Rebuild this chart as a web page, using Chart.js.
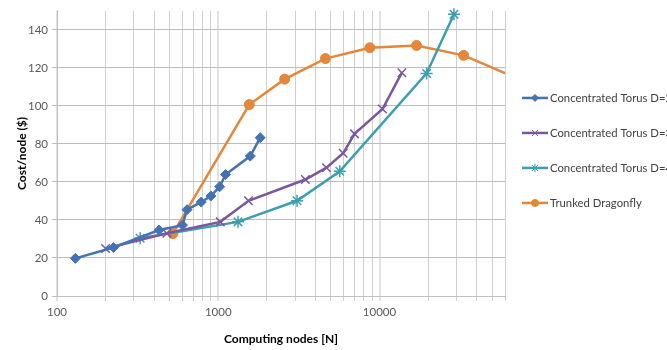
<!DOCTYPE html>
<html>
<head>
<meta charset="utf-8">
<script src="https://cdn.jsdelivr.net/npm/chart.js@4.4.0/dist/chart.umd.min.js"></script>
<style>
  html, body { margin: 0; padding: 0; background: #ffffff; overflow: hidden; }
  #wrap { position: relative; width: 667px; height: 350px; }
</style>
</head>
<body>
<div id="wrap"><canvas id="cost-chart" width="667" height="350"></canvas></div>
<script>
// values
const torus2Nodes = [130, 224, 430, 600, 640, 784, 900, 1020, 1110, 1580, 1820];
const torus2Cost = [19.8, 25.5, 34.7, 37.3, 45.4, 49.4, 52.6, 57.5, 63.9, 73.6, 83.3];

const torus3Nodes = [200, 480, 1030, 1540, 3470, 4690, 5950, 7000, 10440, 13760];
const torus3Cost = [25, 33, 39, 50.1, 61.3, 67.5, 75.1, 85.3, 98.4, 117.5];

const torus4Nodes = [328, 1326, 3080, 5670, 19590, 28950];
const torus4Cost = [30.4, 39, 50.1, 65.6, 117.1, 148.2];

const dragonflyNodes = [523, 1557, 2582, 4620, 8710, 16980, 33250, 65000];
const dragonflyCost = [32.8, 100.7, 114.1, 124.9, 130.6, 131.8, 126.6, 116];

const seriesNames = [
  "Concentrated Torus D=2",
  "Concentrated Torus D=3",
  "Concentrated Torus D=4",
  "Trunked Dragonfly",
];
const xTickValues = [
  100, 200, 300, 400, 500, 600, 700, 800, 900,
  1000, 2000, 3000, 4000, 5000, 6000, 7000, 8000, 9000,
  10000, 20000, 30000, 40000, 50000, 60000,
];
const yTickValues = [0, 20, 40, 60, 80, 100, 120, 140];

function toPoints(xs, ys) {
  return xs.map((x, i) => ({ x: x, y: ys[i] }));
}

function isDecade(v) {
  const l = Math.log10(v);
  return Math.abs(l - Math.round(l)) < 1e-9;
}

const FONT = "Lato, 'Liberation Sans', sans-serif";

const styles = [
  { color: "#4472b4", pointStyle: "rectRot", radius: 5 },
  { color: "#7a58a0", pointStyle: "crossRot", radius: 6 },
  { color: "#3c9fb0", pointStyle: "star", radius: 6 },
  { color: "#e3873b", pointStyle: "circle", radius: 5 },
];

// legend drawn at the right, line + marker like the original
const sideLegend = {
  id: "sideLegend",
  afterDraw(chart) {
    const ctx = chart.ctx;
    const area = chart.chartArea;
    const x0 = area.right + 17;
    const mid = (area.top + area.bottom) / 2 - 3;
    ctx.save();
    seriesNames.forEach((name, i) => {
      const st = styles[i];
      const y = mid - 52.5 + i * 35;
      ctx.strokeStyle = st.color;
      ctx.fillStyle = st.color;
      ctx.lineWidth = 2.5;
      ctx.beginPath();
      ctx.moveTo(x0, y);
      ctx.lineTo(x0 + 26, y);
      ctx.stroke();
      if (Chart.helpers && Chart.helpers.drawPoint) {
        ctx.lineWidth = 1;
        Chart.helpers.drawPoint(ctx, { pointStyle: st.pointStyle, radius: st.radius * 0.7, borderWidth: 1 }, x0 + 13, y);
      }
      ctx.fillStyle = "#404040";
      ctx.font = "11.3px " + FONT;
      ctx.textBaseline = "middle";
      ctx.textAlign = "left";
      ctx.fillText(name, x0 + 28, y);
    });
    ctx.restore();
  },
};

const allNodes = [torus2Nodes, torus3Nodes, torus4Nodes, dragonflyNodes];
const allCost = [torus2Cost, torus3Cost, torus4Cost, dragonflyCost];

const datasets = seriesNames.map((name, i) => ({
  label: name,
  data: toPoints(allNodes[i], allCost[i]),
  borderColor: styles[i].color,
  backgroundColor: styles[i].color,
  borderWidth: 2.5,
  pointStyle: styles[i].pointStyle,
  pointRadius: styles[i].radius,
  pointBorderWidth: i === 1 || i === 2 ? 1.5 : 1,
  pointHoverRadius: styles[i].radius,
  tension: 0,
  fill: false,
  clip: i === 3 ? 0 : false,
}));

const ctx = document.getElementById("cost-chart").getContext("2d");
new Chart(ctx, {
  type: "line",
  data: { datasets: datasets },
  plugins: [sideLegend],
  options: {
    responsive: false,
    animation: false,
    devicePixelRatio: 1,
    layout: { padding: { left: 0, right: 162, top: 7, bottom: 0 } },
    plugins: {
      legend: { display: false },
      tooltip: { enabled: false },
    },
    scales: {
      x: {
        type: "logarithmic",
        min: 100,
        max: 60000,
        afterBuildTicks: (scale) => {
          scale.ticks = xTickValues.map((v) => ({ value: v, major: isDecade(v) }));
        },
        afterFit: (scale) => {
          scale.height = 54;
        },
        ticks: {
          autoSkip: false,
          maxRotation: 0,
          padding: 4,
          color: "#595959",
          font: { family: FONT, size: 11.5 },
          callback: (v) => (isDecade(v) ? String(v) : ""),
        },
        grid: {
          color: (c) => (c.tick && isDecade(c.tick.value) ? "#e2e2e2" : "#cfcfcf"),
          lineWidth: (c) => (c.tick && isDecade(c.tick.value) ? 2 : 1),
          tickLength: 5,
        },
        border: { color: "#bfbfbf" },
        title: {
          display: true,
          text: "Computing nodes [N]",
          color: "#000000",
          font: { family: FONT, size: 12, weight: "bold" },
          padding: { top: 0, bottom: 4 },
        },
      },
      y: {
        type: "linear",
        min: 0,
        max: 150,
        afterBuildTicks: (scale) => {
          scale.ticks = yTickValues.map((v) => ({ value: v }));
        },
        afterFit: (scale) => {
          scale.width = 57;
        },
        ticks: {
          padding: 4,
          color: "#595959",
          font: { family: FONT, size: 11.5 },
        },
        grid: {
          color: "#bdbdbd",
          lineWidth: 1,
          tickLength: 5,
        },
        border: { color: "#bfbfbf" },
        title: {
          display: true,
          text: "Cost/node ($)",
          color: "#000000",
          font: { family: FONT, size: 12, weight: "bold" },
          padding: { top: 15, bottom: 0 },
        },
      },
    },
  },
});
</script>
</body>
</html>
